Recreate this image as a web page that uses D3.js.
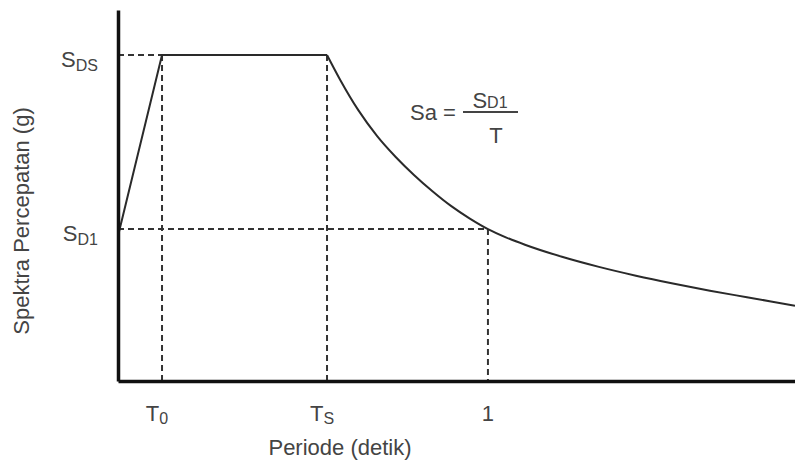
<!DOCTYPE html>
<html>
<head>
<meta charset="utf-8">
<script src="https://cdn.jsdelivr.net/npm/d3@7"></script>
<style>
  html, body { margin: 0; padding: 0; background: #fff; }
  svg { display: block; }
  text { font-family: "Liberation Sans", Arial, sans-serif; fill: #444; }
</style>
</head>
<body>
<svg id="chart" width="795" height="463"></svg>
<script>
// Design response spectrum (normalised so that S_DS = 1)
const periodMax = 1.83;
const saMax = 1.138;

const T0 = 0.119;
const TS = 0.565;
const T1 = 1.0;
const SDS = 1.0;
const SD1 = 0.466;

// Rising branch and plateau
const rampT  = [0, T0, TS];
const rampSa = [0.445, SDS, SDS];

// Descending branch Sa = S_D1 / T
const decayT  = [0.565, 0.60, 0.65, 0.70, 0.75, 0.80, 0.85, 0.90, 0.95, 1.00, 1.05, 1.10, 1.20, 1.30, 1.40, 1.50, 1.60, 1.70, 1.83];
const decaySa = [1.000, 0.925, 0.830, 0.752, 0.688, 0.632, 0.582, 0.537, 0.499, 0.466, 0.440, 0.418, 0.381, 0.350, 0.323, 0.299, 0.277, 0.257, 0.231];

// Tick labels: [main, subscript]
const xTickLabels = [["T", "0"], ["T", "S"], ["1", ""]];
const xTickValues = [T0, TS, T1];
const yTickLabels = [["S", "DS"], ["S", "D1"]];
const yTickValues = [SDS, SD1];

const xTitle = "Periode (detik)";
const yTitle = "Spektra Percepatan (g)";

const svg = d3.select("#chart");
const x = d3.scaleLinear().domain([0, periodMax]).range([118, 795]);
const y = d3.scaleLinear().domain([0, saMax]).range([381, 10]);

const ink = "#2a2a2a";

// Dashed guide lines
const guides = [
  [[0, SDS], [T0, SDS]],
  [[T0, SDS], [T0, 0]],
  [[TS, SDS], [TS, 0]],
  [[0, SD1], [T1, SD1]],
  [[T1, SD1], [T1, 0]]
];
const lineXY = d3.line().x(d => x(d[0])).y(d => y(d[1]));
svg.append("g").selectAll("path").data(guides).join("path")
  .attr("d", lineXY)
  .attr("fill", "none")
  .attr("stroke", "#333")
  .attr("stroke-width", 2)
  .attr("stroke-dasharray", "6,4");

// Spectrum curve
const rampPts = rampT.map((t, i) => [t, rampSa[i]]);
const decayPts = decayT.map((t, i) => [t, decaySa[i]]);
svg.append("path")
  .attr("d", d3.line().x(d => x(d[0])).y(d => y(d[1])).curve(d3.curveLinear)(rampPts))
  .attr("fill", "none").attr("stroke", ink).attr("stroke-width", 2);
svg.append("path")
  .attr("d", d3.line().x(d => x(d[0])).y(d => y(d[1])).curve(d3.curveMonotoneX)(decayPts))
  .attr("fill", "none").attr("stroke", ink).attr("stroke-width", 2);

// Axes (lines only; labels drawn below)
const xAxis = d3.axisBottom(x).tickValues([]).tickSizeOuter(0);
const yAxis = d3.axisLeft(y).tickValues([]).tickSizeOuter(0);
svg.append("g").attr("transform", `translate(0,${y(0)})`).call(xAxis)
  .select(".domain").attr("stroke", "#111").attr("stroke-width", 3.5);
svg.append("g").attr("transform", `translate(${x(0)},0)`).call(yAxis)
  .select(".domain").attr("stroke", "#111").attr("stroke-width", 3.5);

// X tick labels
const xt = svg.append("g").selectAll("text").data(xTickLabels).join("text")
  .attr("x", (d, i) => x(xTickValues[i]) + (d[1] ? -5 : 0))
  .attr("y", 421)
  .attr("text-anchor", "middle")
  .attr("font-size", 22);
xt.append("tspan").text(d => d[0]);
xt.append("tspan").attr("font-size", 16).attr("dy", 3).text(d => d[1]);

// Y tick labels
const yt = svg.append("g").selectAll("text").data(yTickLabels).join("text")
  .attr("x", 98)
  .attr("y", (d, i) => y(yTickValues[i]) + 12)
  .attr("text-anchor", "end")
  .attr("font-size", 22);
yt.append("tspan").text(d => d[0]);
yt.append("tspan").attr("font-size", 16).attr("dy", 4).text(d => d[1]);

// Axis titles
svg.append("text")
  .attr("x", 340).attr("y", 455)
  .attr("text-anchor", "middle").attr("font-size", 22)
  .text(xTitle);
svg.append("text")
  .attr("transform", "translate(29,221) rotate(-90)")
  .attr("text-anchor", "middle").attr("font-size", 22)
  .text(yTitle);

// Formula annotation Sa = S_D1 / T
const f = svg.append("g");
f.append("text").attr("x", 410).attr("y", 120).attr("font-size", 22).text("Sa =");
f.append("line")
  .attr("x1", 463).attr("x2", 518).attr("y1", 112).attr("y2", 112)
  .attr("stroke", "#444").attr("stroke-width", 2);
const num = f.append("text").attr("x", 490).attr("y", 108)
  .attr("text-anchor", "middle").attr("font-size", 22);
num.append("tspan").text("S");
num.append("tspan").attr("font-size", 16).attr("dy", 0).text("D1");
f.append("text").attr("x", 496).attr("y", 143)
  .attr("text-anchor", "middle").attr("font-size", 22).text("T");
</script>
</body>
</html>
